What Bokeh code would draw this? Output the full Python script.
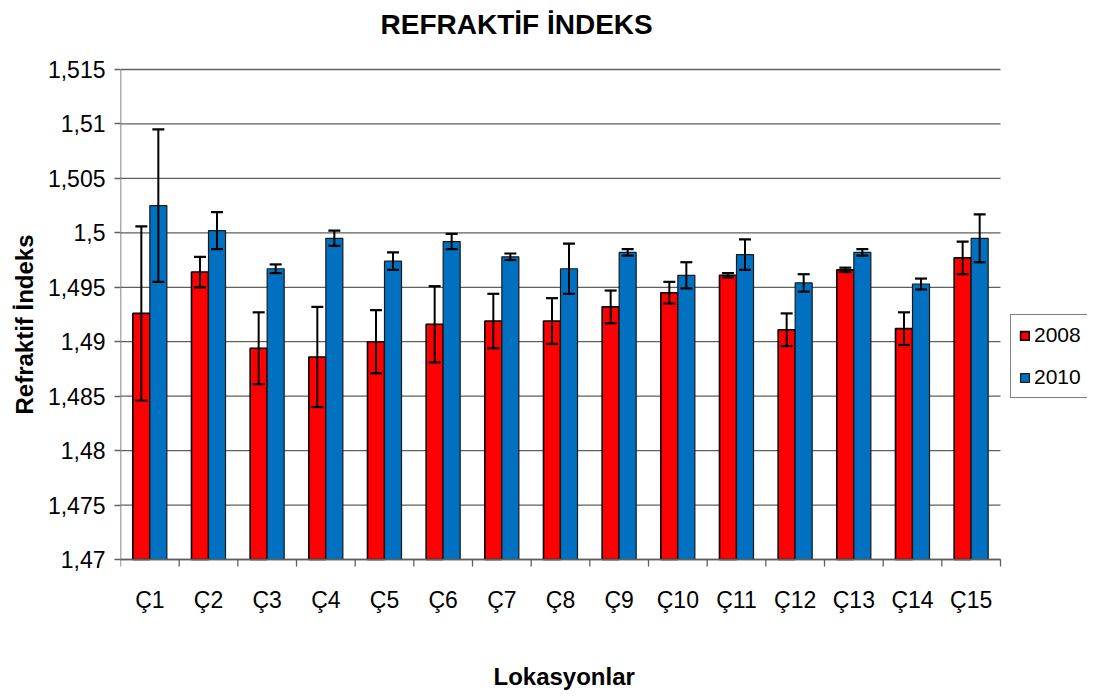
from bokeh.plotting import figure
from bokeh.models import (Range1d, FixedTicker, Whisker, ColumnDataSource, Legend,
                          LegendItem, TeeHead, Title, Label)
from bokeh.core.properties import value
from bokeh.embed import file_html
from bokeh.resources import INLINE

categories = ["Ç1", "Ç2", "Ç3", "Ç4", "Ç5", "Ç6", "Ç7", "Ç8", "Ç9", "Ç10",
              "Ç11", "Ç12", "Ç13", "Ç14", "Ç15"]
ri_2008 = [1.4926, 1.4964, 1.4894, 1.4886, 1.4900, 1.4916, 1.4919, 1.4919, 1.4932, 1.4945,
           1.4961, 1.4911, 1.4966, 1.4912, 1.4977]
err_2008 = [0.0080, 0.0014, 0.0033, 0.0046, 0.0029, 0.0035, 0.0025, 0.0021, 0.0015, 0.0010,
            0.0002, 0.0015, 0.0002, 0.0015, 0.0015]
ri_2010 = [1.5025, 1.5002, 1.4967, 1.4995, 1.4974, 1.4992, 1.4978, 1.4967, 1.4982, 1.4961,
           1.4980, 1.4954, 1.4982, 1.4953, 1.4995]
err_2010 = [0.0070, 0.0017, 0.0004, 0.0007, 0.0008, 0.0007, 0.0003, 0.0023, 0.0003, 0.0012,
            0.0014, 0.0008, 0.0003, 0.0005, 0.0022]
y_ticks = [1.47, 1.475, 1.48, 1.485, 1.49, 1.495, 1.5, 1.505, 1.51, 1.515]
y_tick_labels = ["1,47", "1,475", "1,48", "1,485", "1,49", "1,495", "1,5", "1,505", "1,51", "1,515"]
series_names = ["2008", "2010"]
chart_title = "REFRAKTİF İNDEKS"
x_title = "Lokasyonlar"
y_title = "Refraktif İndeks"
y_min, y_max = 1.47, 1.515

FONT = "Liberation Sans"
GRID = "#5f5f5f"
RED = "#FF0000"
BLUE = "#0070C0"
BW = 0.29

W, H = 1087, 692
LEFT = 120             # left edge of bar area
AXIS_Y = 559           # pixel row of the x axis
TOP_Y = 69             # pixel row of the highest gridline
PLOT_PX = 880          # pixel width of the bar area
FRAME_PX = W - LEFT    # frame spans to right/top/bottom edges so texts + legend fit

n = len(categories)
k = (y_max - y_min) / (AXIS_Y - TOP_Y)       # data units per pixel (vertical)
x_end = n * FRAME_PX / PLOT_PX
y_start = y_min - (H - AXIS_Y) * k
y_end = y_max + TOP_Y * k
centers = [i + 0.5 for i in range(n)]
bounds = list(range(n + 1))
x08 = [c - BW / 2 for c in centers]
x10 = [c + BW / 2 for c in centers]

p = figure(width=W, height=H, output_backend="svg", toolbar_location=None,
           x_range=Range1d(0, x_end), y_range=Range1d(y_start, y_end),
           x_axis_location=None,
           min_border_left=LEFT, min_border_right=0, min_border_top=0,
           min_border_bottom=0)
p.title = None
p.outline_line_color = None
p.background_fill_color = "white"

# horizontal gridlines limited to the bar area
p.segment(x0=[0] * len(y_ticks), x1=[n] * len(y_ticks), y0=y_ticks, y1=y_ticks,
          line_color=GRID, line_width=1.3)

src08 = ColumnDataSource(dict(x=x08, top=ri_2008,
                              upper=[v + e for v, e in zip(ri_2008, err_2008)],
                              lower=[v - e for v, e in zip(ri_2008, err_2008)]))
src10 = ColumnDataSource(dict(x=x10, top=ri_2010,
                              upper=[v + e for v, e in zip(ri_2010, err_2010)],
                              lower=[v - e for v, e in zip(ri_2010, err_2010)]))

r08 = p.vbar(x="x", top="top", bottom=y_min, width=BW, source=src08,
             fill_color=RED, line_color="black", line_width=1.6)
r10 = p.vbar(x="x", top="top", bottom=y_min, width=BW, source=src10,
             fill_color=BLUE, line_color="#1a1a1a", line_width=1.2)

for s in (src08, src10):
    w = Whisker(base="x", upper="upper", lower="lower", source=s, level="overlay",
                line_color="black", line_width=2,
                upper_head=TeeHead(size=12, line_width=2.2, line_color="black"),
                lower_head=TeeHead(size=12, line_width=2.2, line_color="black"))
    p.add_layout(w)

# axis lines limited to the bar area
p.segment(x0=[0], x1=[n], y0=[y_min], y1=[y_min], line_color=GRID, line_width=1.5)
p.segment(x0=[0], x1=[0], y0=[y_min], y1=[y_max], line_color=GRID, line_width=1.5)

# category axis: tick marks between categories and labels under each pair
p.segment(x0=bounds, x1=bounds, y0=[y_min] * len(bounds),
          y1=[y_min - 7 * k] * len(bounds), line_color=GRID, line_width=1.3)
p.text(x=centers, y=[y_min - 40 * k] * n, text=categories,
       text_font=value(FONT), text_font_size=value("23px"), text_color="black",
       text_align="center", text_baseline="middle")

# y axis
p.yaxis.ticker = FixedTicker(ticks=y_ticks)
p.yaxis.major_label_overrides = {t: lab for t, lab in zip(y_ticks, y_tick_labels)}
p.yaxis.axis_line_color = None
p.yaxis.major_tick_out = 6
p.yaxis.major_tick_in = 0
p.yaxis.minor_tick_out = 0
p.yaxis.minor_tick_in = 0
p.yaxis.major_tick_line_color = GRID
p.yaxis.major_tick_line_width = 1.3
p.yaxis.major_label_standoff = 9
p.yaxis.major_label_text_font_size = "23px"
p.yaxis.major_label_text_font = FONT
p.yaxis.major_label_text_color = "black"

p.xgrid.grid_line_color = None
p.ygrid.grid_line_color = None

# chart title and x axis title, in screen units of the frame
p.add_layout(Label(x=260, y=H - 24, x_units="screen", y_units="screen",
                   text=chart_title, text_font=FONT, text_font_size="28px",
                   text_font_style="bold", text_color="black",
                   text_align="left", text_baseline="middle"))
p.add_layout(Label(x=373, y=H - 676, x_units="screen", y_units="screen",
                   text=x_title, text_font=FONT, text_font_size="24px",
                   text_font_style="bold", text_color="black",
                   text_align="left", text_baseline="middle"))

# y axis title, centred on the bar area
p.add_layout(Title(text=y_title, align="left", offset=H - 414,
                   text_font=FONT, text_font_size="24px", text_font_style="bold",
                   text_color="black", standoff=13), "left")

legend = Legend(items=[LegendItem(label=series_names[0], renderers=[r08]),
                       LegendItem(label=series_names[1], renderers=[r10])],
                location=(890, H - 398), orientation="vertical",
                label_text_font=FONT, label_text_font_size="21px", label_text_color="black",
                glyph_width=11, glyph_height=11, label_standoff=4,
                spacing=18, padding=8, margin=0,
                border_line_color="black", border_line_width=1.2,
                background_fill_color="white", background_fill_alpha=1)
p.add_layout(legend, "center")

open("out.html", "w").write(file_html(p, INLINE))
